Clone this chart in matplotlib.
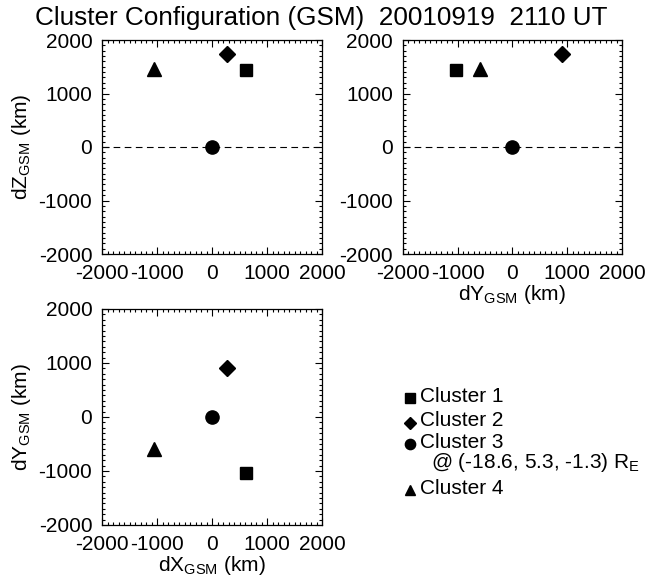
import matplotlib
matplotlib.use("Agg")
import matplotlib.pyplot as plt
from matplotlib.ticker import MultipleLocator

plt.rcParams['font.family'] = ['Liberation Sans', 'DejaVu Sans']
plt.rcParams['mathtext.fontset'] = 'custom'
plt.rcParams['mathtext.rm'] = 'Liberation Sans'
plt.rcParams['mathtext.it'] = 'Liberation Sans'
plt.rcParams['axes.unicode_minus'] = False

# relative positions of the four spacecraft (km), GSM
names = ['Cluster 1', 'Cluster 2', 'Cluster 3', 'Cluster 4']
markers = ['s', 'D', 'o', '^']
dx = [618, 270, 0, -1050]
dy = [-1030, 905, 0, -590]
dz = [1440, 1740, 0, 1460]
ref_pos = '@ (-18.6, 5.3, -1.3) R$_{\\mathrm{E}}$'
title = 'Cluster Configuration (GSM)  20010919  2110 UT'
ticks = [-2000, -1000, 0, 1000, 2000]

msize = {'s': 9, 'D': 8, 'o': 9.5, '^': 9.5}

fig = plt.figure(figsize=(6.47, 5.8), dpi=100)


def setup(ax):
    ax.set_xlim(-2000, 2000)
    ax.set_ylim(-2000, 2000)
    ax.set_xticks(ticks)
    ax.set_yticks(ticks)
    ax.xaxis.set_minor_locator(MultipleLocator(100))
    ax.yaxis.set_minor_locator(MultipleLocator(100))
    ax.tick_params(which='both', direction='in', top=True, right=True,
                   labelsize=15, width=0.8)
    ax.tick_params(which='major', length=5, pad=7)
    ax.tick_params(which='minor', length=2.5)
    for s in ax.spines.values():
        s.set_linewidth(0.9)


def scatter(ax, xs, ys):
    for x, y, m in zip(xs, ys, markers):
        ax.plot(x, y, marker=m, color='black', markersize=msize[m], linestyle='none')


# X-Z
ax1 = fig.add_axes([102/647, 1-254/580, 220/647, 214/580])
setup(ax1)
ax1.axhline(0, color='black', lw=0.8, ls=(0, (6, 4)))
scatter(ax1, dx, dz)
ax1.set_ylabel(r'dZ$_{\mathrm{GSM}}$ (km)', fontsize=15, labelpad=4)

# Y-Z
ax2 = fig.add_axes([402.7/647, 1-254/580, 219.3/647, 214/580])
setup(ax2)
ax2.axhline(0, color='black', lw=0.8, ls=(0, (6, 4)))
scatter(ax2, dy, dz)
ax2.set_xlabel(r'dY$_{\mathrm{GSM}}$ (km)', fontsize=15, labelpad=0)

# X-Y
ax3 = fig.add_axes([102/647, 1-525/580, 220/647, 216/580])
setup(ax3)
scatter(ax3, dx, dy)
ax3.set_xlabel(r'dX$_{\mathrm{GSM}}$ (km)', fontsize=15, labelpad=0)
ax3.set_ylabel(r'dY$_{\mathrm{GSM}}$ (km)', fontsize=15, labelpad=4)

fig.text(321/647, 1-18/580, title, fontsize=18.8, ha='center', va='center')

# legend
lax = fig.add_axes([0, 0, 1, 1])
lax.set_xlim(0, 647)
lax.set_ylim(580, 0)
lax.axis('off')
rows = [396, 421, 442, 488]
for name, m, r in zip(names, markers, rows):
    lax.plot(410, r + 2, marker=m, color='black', markersize=msize[m] * 0.78, linestyle='none')
    lax.text(420, r, name, fontsize=15, va='center', ha='left')
lax.text(431, 463, ref_pos, fontsize=15, va='center', ha='left')

fig.savefig('out.png', dpi=100)
